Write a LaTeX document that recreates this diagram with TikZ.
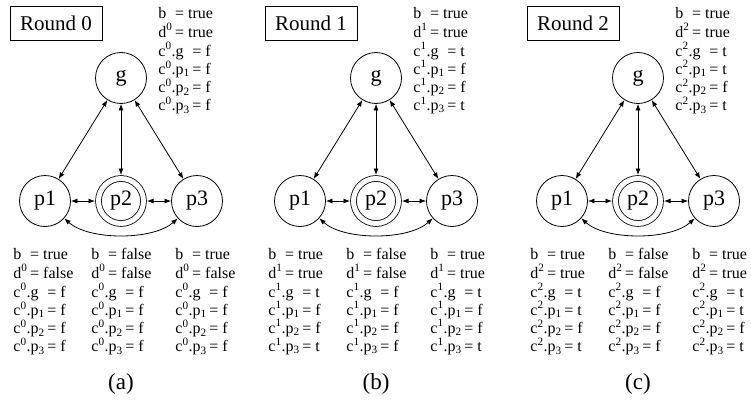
\documentclass[tikz,border=0pt]{standalone}
\usepackage{fontspec}
\setmainfont{Liberation Serif}
\usetikzlibrary{arrows.meta}

% one block of local variables: round, b, d, c.g, c.p1, c.p2, c.p3
\newcommand{\st}[7]{%
 b\phantom{\textsuperscript{#1}}\,= #2\\[2.5pt]
 d\textsuperscript{#1}\,= #3\\[2.5pt]
 c\textsuperscript{#1}.g\phantom{\textsubscript{1}}\,= #4\\
 c\textsuperscript{#1}.p\textsubscript{1}\,= #5\\
 c\textsuperscript{#1}.p\textsubscript{2}\,= #6\\
 c\textsuperscript{#1}.p\textsubscript{3}\,= #7}

\tikzset{
 proc/.style={draw, circle, minimum size=51pt, inner sep=0pt, font=\fontsize{22}{22}\selectfont},
 home/.style={draw, circle, double, double distance=5pt, minimum size=45pt, inner sep=0pt, outer sep=3.5pt, font=\fontsize{22}{22}\selectfont},
 state/.style={align=left, anchor=north west, inner sep=0pt, font=\fontsize{16}{16.5}\selectfont},
 title/.style={draw, minimum width=92pt, minimum height=34pt, inner sep=0pt, font=\fontsize{21}{21}\selectfont},
 caption/.style={font=\fontsize{23}{23}\selectfont}
}

\begin{document}
\begin{tikzpicture}[x=1pt, y=-1pt, line width=0.8pt, >={Latex[length=6.5pt,width=5pt]}]
 \useasboundingbox (0,0) rectangle (751,404);

 \foreach \r/\dx/\lbl/\d/\cg/\cp/\cq in {0/0/a/false/f/f/f, 1/255/b/true/t/f/t, 2/517/c/true/t/t/t} {
  \begin{scope}[xshift=\dx]
   \node[title] (round\r) at (56, 23) {Round \r};
   \node[proc] (g\r)    at (121, 78)  {g};
   \node[proc] (p1-\r)  at (45, 201)  {p1};
   \node[home] (p2-\r)  at (121, 201) {p2};
   \node[proc] (p3-\r)  at (197, 201) {p3};

   \node[state] (sg\r)  at (158, 4)   {\st{\r}{true}{true}{\cg}{\cp}{f}{\cq}};
   \node[state] (s1-\r) at (13, 245)  {\st{\r}{true}{\d}{\cg}{\cp}{f}{\cq}};
   \node[state] (s2-\r) at (91, 245)  {\st{\r}{false}{false}{f}{f}{f}{f}};
   \node[state] (s3-\r) at (175, 245) {\st{\r}{true}{\d}{\cg}{\cp}{f}{\cq}};
   \node[caption] (cap\r) at (121, 384) {(\lbl)};

   \draw[<->] (g\r) to (p1-\r);
   \draw[<->] (g\r) to (p2-\r);
   \draw[<->] (g\r) to (p3-\r);
   \draw[<->] (p1-\r) to (p2-\r);
   \draw[<->] (p2-\r) to (p3-\r);
   \draw[<->] (p1-\r) to[out=-42, in=-138, looseness=0.75] (p3-\r);
  \end{scope}
 }
\end{tikzpicture}
\end{document}
